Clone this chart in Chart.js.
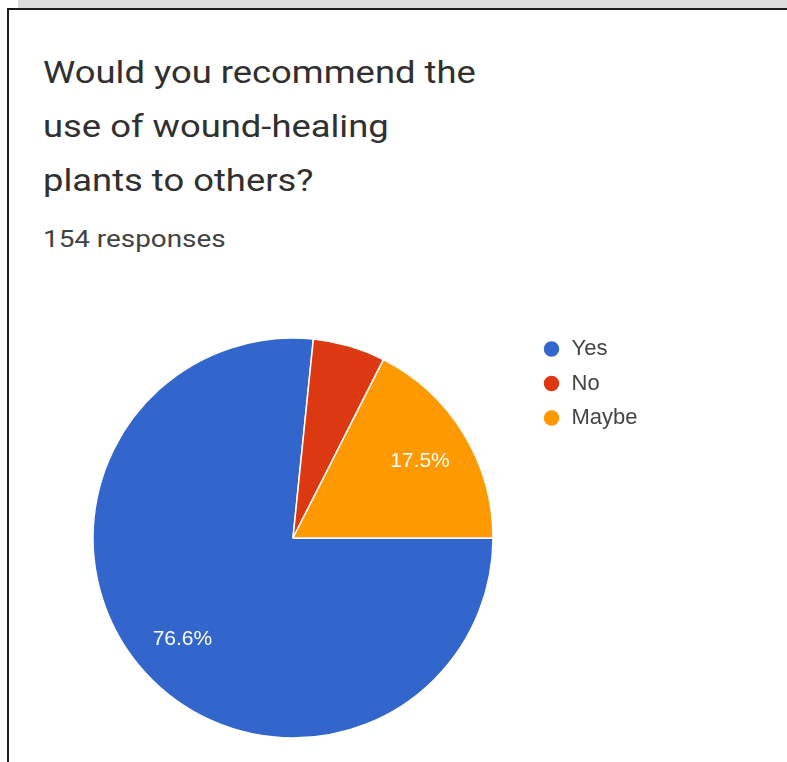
<!DOCTYPE html>
<html>
<head>
<meta charset="utf-8">
<script src="https://cdn.jsdelivr.net/npm/chart.js@4/dist/chart.umd.min.js"></script>
<style>
  html, body { margin: 0; padding: 0; background: #fff; }
  body { width: 787px; height: 762px; position: relative; overflow: hidden; }
  .band { position: absolute; left: 18px; top: 0; width: 769px; height: 8px; background: #dcdcdc; }
  .card {
    position: absolute; left: 7px; top: 8px; width: 800px; height: 800px;
    border-left: 2px solid #1c1c1c; border-top: 2px solid #1c1c1c;
  }
  .title {
    position: absolute; left: 43px; top: 45px;
    font-family: Roboto, sans-serif; font-size: 32px; line-height: 54px; color: #303030;
    transform: scaleX(1.137); transform-origin: 0 0; white-space: nowrap;
  }
  .subtitle {
    position: absolute; left: 43px; top: 227px;
    font-family: Roboto, sans-serif; font-size: 24px; line-height: 1; color: #424242;
    transform: scaleX(1.16); transform-origin: 0 0; white-space: nowrap;
  }
  #pie { position: absolute; left: 0; top: 300px; }
</style>
</head>
<body>
<div class="band"></div>
<div class="card"></div>
<div class="title">Would you recommend the<br>use of wound-healing<br>plants to others?</div>
<div class="subtitle">154 responses</div>
<canvas id="pie" width="787" height="462"></canvas>

<script>
// ===== Data =====
const answers = ["Yes", "No", "Maybe"];
const counts = [118, 9, 27];
const sliceColors = ["#3366cc", "#dc3912", "#ff9900"];

// ===== Legend / layout =====
const LEGEND_FONT = { family: "'Liberation Sans', Arial, sans-serif", size: 22 };
const LEGEND_PAD = 12.5;
const PIE_CX = 293;          // pie centre, canvas px
const LEGEND_LEFT = 530;     // where the legend box should start

// ===== Percent labels inside slices =====
const sliceLabels = {
  id: "sliceLabels",
  afterDatasetsDraw(chart) {
    const { ctx } = chart;
    const data = chart.data.datasets[0].data;
    const total = data.reduce((a, b) => a + b, 0);
    chart.getDatasetMeta(0).data.forEach((arc, i) => {
      const pct = (data[i] / total) * 100;
      if (pct < 8) return;
      const { x, y, startAngle, endAngle, outerRadius } = arc.getProps(
        ["x", "y", "startAngle", "endAngle", "outerRadius"], true
      );
      const mid = (startAngle + endAngle) / 2;
      const r = outerRadius * 0.745;
      ctx.save();
      ctx.fillStyle = "#ffffff";
      ctx.font = "21px 'Liberation Sans', Arial, sans-serif";
      ctx.textAlign = "center";
      ctx.textBaseline = "middle";
      ctx.fillText(pct.toFixed(1) + "%", x + Math.cos(mid) * r, y + Math.sin(mid) * r + 1);
      ctx.restore();
    });
  },
};

const chart = new Chart(document.getElementById("pie"), {
  type: "pie",
  data: {
    labels: answers,
    datasets: [{
      data: counts,
      backgroundColor: sliceColors,
      borderColor: "#ffffff",
      borderWidth: 1.5,
      radius: 200,
    }],
  },
  options: {
    responsive: false,
    animation: false,
    rotation: 90,
    layout: { padding: { left: 2 * PIE_CX - LEGEND_LEFT, top: 25.5, bottom: 11.5, right: 0 } },
    plugins: {
      legend: {
        position: "right",
        align: "start",
        labels: {
          usePointStyle: true,
          pointStyle: "circle",
          boxWidth: 18,
          boxHeight: 12,
          padding: LEGEND_PAD,
          color: "#444444",
          font: LEGEND_FONT,
        },
      },
      tooltip: { enabled: false },
    },
  },
  plugins: [sliceLabels],
});

// legend width comes from the label text; pad the right side so it starts at LEGEND_LEFT
chart.options.layout.padding.right = 787 - LEGEND_LEFT - chart.legend.width;
chart.update();
</script>
</body>
</html>
